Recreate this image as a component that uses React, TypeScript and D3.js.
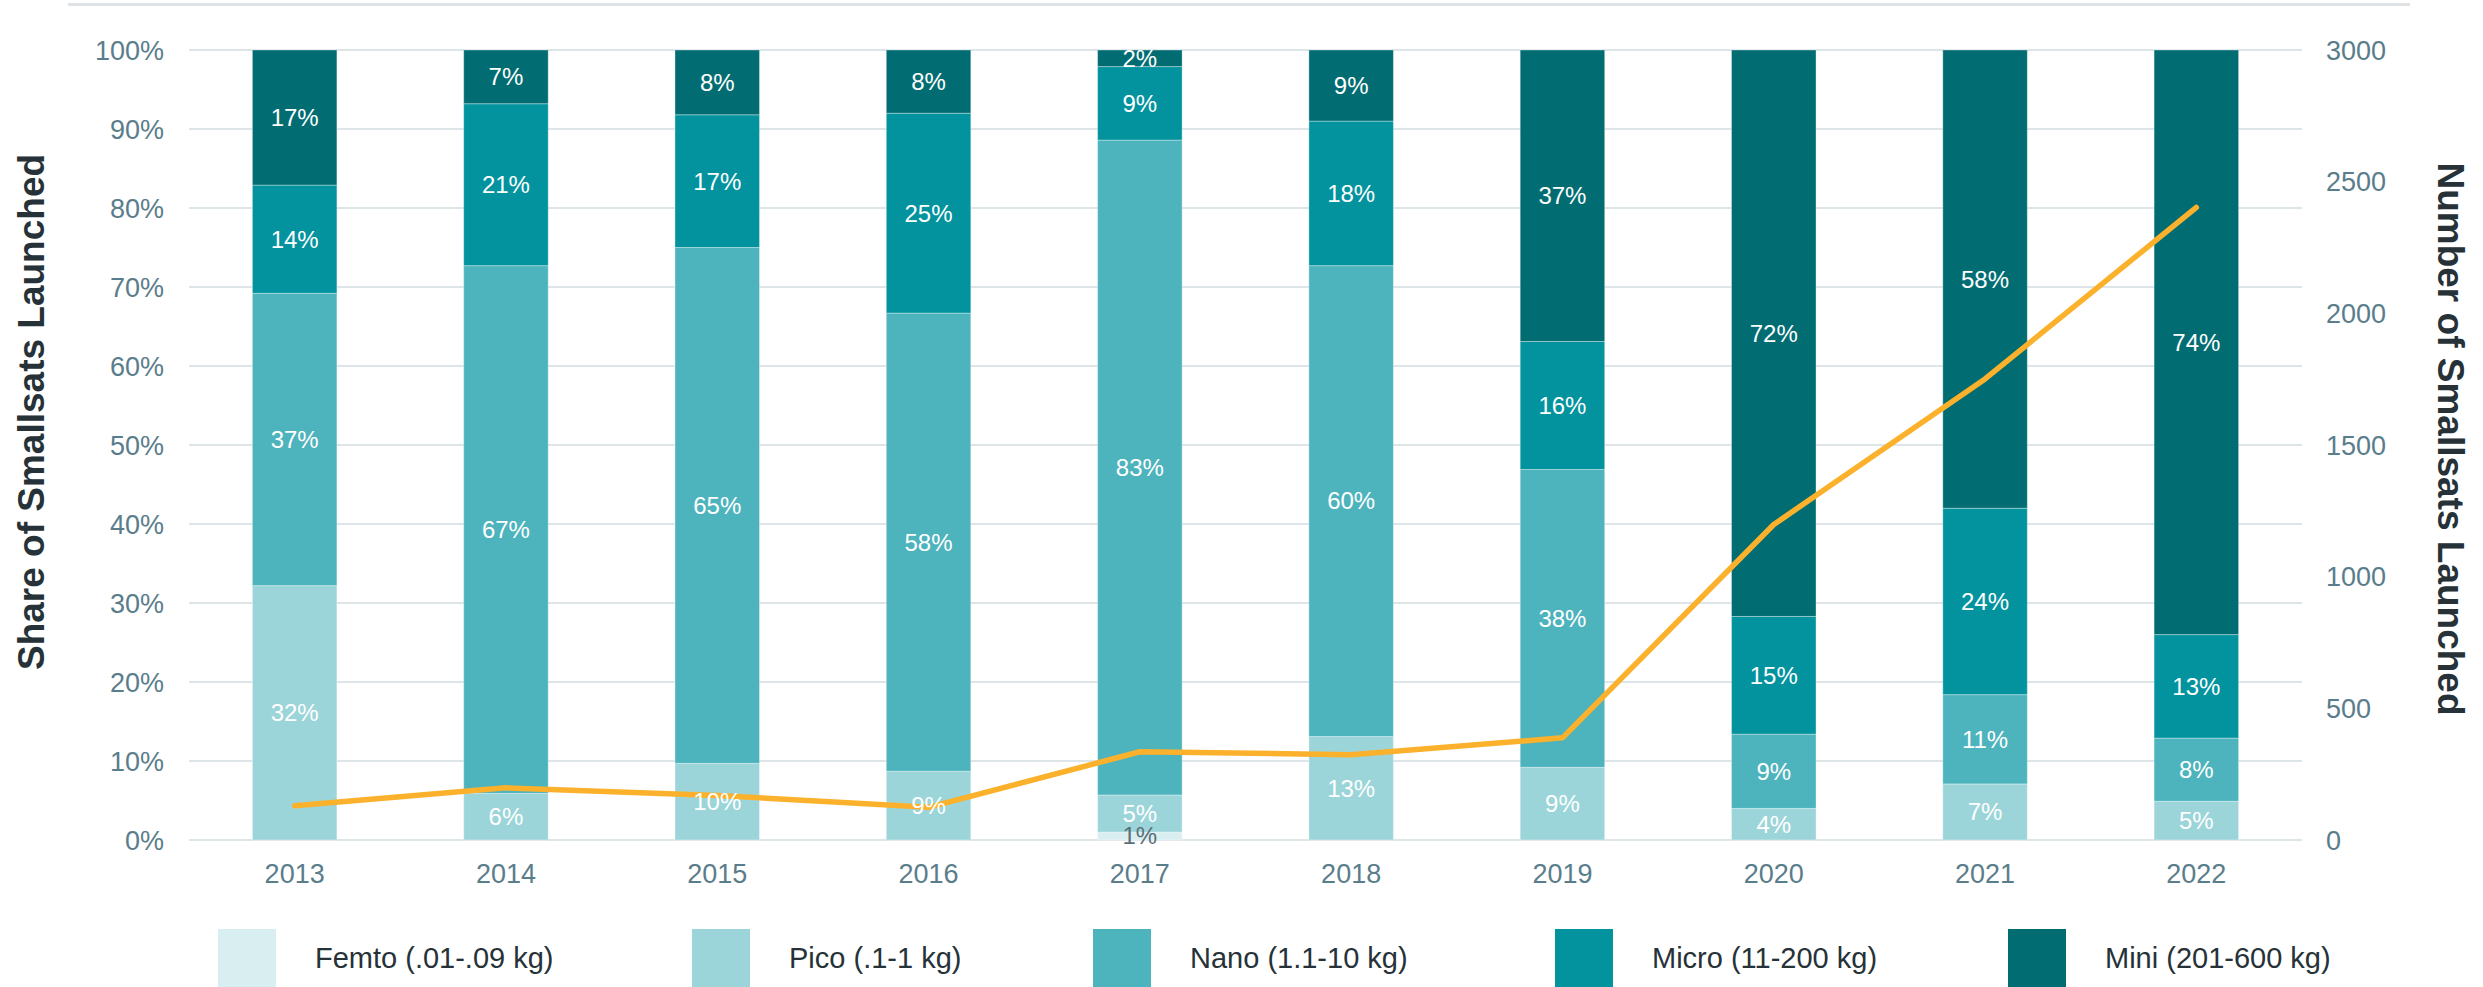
import React from 'react';
import * as d3 from 'd3';

const years = ['2013', '2014', '2015', '2016', '2017', '2018', '2019', '2020', '2021', '2022'];
const femto = [0, 0, 0, 0, 1.0, 0, 0, 0, 0, 0];
const pico = [32.2, 5.9, 9.7, 8.7, 4.7, 13.1, 9.2, 4.0, 7.1, 4.9];
const nano = [37.0, 66.8, 65.3, 58.0, 82.9, 59.6, 37.7, 9.4, 11.3, 8.0];
const micro = [13.7, 20.5, 16.8, 25.3, 9.3, 18.3, 16.2, 14.9, 23.6, 13.1];
const mini = [17.1, 6.8, 8.2, 8.0, 2.1, 9.0, 36.9, 71.7, 58.0, 74.0];
const launches = [130, 198, 169, 124, 335, 324, 388, 1198, 1751, 2402];

const seriesNames = ['Femto (.01-.09 kg)', 'Pico (.1-1 kg)', 'Nano (1.1-10 kg)', 'Micro (11-200 kg)', 'Mini (201-600 kg)'];
const seriesKeys = ['femto', 'pico', 'nano', 'micro', 'mini'];
const seriesValues = [femto, pico, nano, micro, mini];
const seriesColors = ['#d9eef0', '#9cd5d9', '#4db3bd', '#02939e', '#016d72'];
const labelColors = ['#5a6f78', '#ffffff', '#ffffff', '#ffffff', '#ffffff'];

const leftTicks = [0, 10, 20, 30, 40, 50, 60, 70, 80, 90, 100];
const rightTicks = [0, 500, 1000, 1500, 2000, 2500, 3000];

// layout
const W = 2483;
const H = 987;
const plotLeft = 189;
const plotRight = 2302;
const plotTop = 50;
const plotBottom = 840;
const legendX = [218, 692, 1093, 1555, 2008];
const FONT = 'Liberation Sans, Arial, Helvetica, sans-serif';
const tickColor = '#5a7d8b';
const titleColor = '#263238';

export default function App() {
  const x = d3.scaleBand<string>().domain(years).range([plotLeft, plotRight]).paddingInner(0.6).paddingOuter(0.3);
  const y = d3.scaleLinear().domain([0, 100]).range([plotBottom, plotTop]);
  const yR = d3.scaleLinear().domain([0, 3000]).range([plotBottom, plotTop]);

  const table = years.map((yr, i) => {
    const row: any = { year: yr };
    seriesKeys.forEach((k, j) => (row[k] = seriesValues[j][i]));
    return row;
  });
  const stacked = d3.stack<any>().keys(seriesKeys)(table);

  const line = d3
    .line<number>()
    .x((_, i) => (x(years[i]) as number) + x.bandwidth() / 2)
    .y((d) => yR(d));

  const bw = x.bandwidth();

  return (
    <svg width={W} height={H} style={{ position: 'absolute', left: 0, top: 0, background: '#fff' }} fontFamily={FONT}>
      <defs>
        <clipPath id="labclip">
          <rect x={0} y={plotTop} width={W} height={900 - plotTop} />
        </clipPath>
      </defs>
      <rect x={0} y={0} width={W} height={H} fill="#fff" />
      {/* top rule */}
      <line x1={68} x2={2410} y1={4.5} y2={4.5} stroke="#dfe3e5" strokeWidth={3} />

      {/* gridlines */}
      {leftTicks.map((t) => (
        <line key={t} x1={plotLeft} x2={plotRight} y1={y(t)} y2={y(t)} stroke="#dde5e9" strokeWidth={2} />
      ))}

      {/* left ticks */}
      {leftTicks.map((t) => (
        <text key={t} x={164} y={y(t) + 9.5} textAnchor="end" fontSize={27} fill={tickColor}>
          {t + '%'}
        </text>
      ))}
      {/* right ticks */}
      {rightTicks.map((t) => (
        <text key={t} x={2326} y={yR(t) + 9.5} textAnchor="start" fontSize={27} fill={tickColor}>
          {t}
        </text>
      ))}
      {/* x ticks */}
      {years.map((yr) => (
        <text key={yr} x={(x(yr) as number) + bw / 2} y={883} textAnchor="middle" fontSize={27} fill={tickColor}>
          {yr}
        </text>
      ))}

      {/* axis titles */}
      <text
        transform={`translate(44, 412) rotate(-90)`}
        textAnchor="middle"
        fontSize={37}
        fontWeight="bold"
        fill={titleColor}
      >
        Share of Smallsats Launched
      </text>
      <text
        transform={`translate(2438, 439) rotate(90)`}
        textAnchor="middle"
        fontSize={37}
        fontWeight="bold"
        fill={titleColor}
      >
        Number of Smallsats Launched
      </text>

      {/* bars */}
      {stacked.map((s, j) => (
        <g key={s.key} fill={seriesColors[j]}>
          {s.map((d, i) =>
            d[1] - d[0] > 0 ? (
              <rect
                key={i}
                x={x(years[i]) as number}
                y={y(d[1])}
                width={bw}
                height={y(d[0]) - y(d[1])}
                stroke="rgba(255,255,255,0.35)"
                strokeWidth={1}
              />
            ) : null
          )}
        </g>
      ))}

      {/* line */}
      <path
        d={line(launches) as string}
        fill="none"
        stroke="#fbb12b"
        strokeWidth={5.5}
        strokeLinejoin="round"
        strokeLinecap="round"
      />

      {/* labels */}
      <g clipPath="url(#labclip)">
        {stacked.map((s, j) =>
          s.map((d, i) => {
            const v = d[1] - d[0];
            if (v <= 0) return null;
            return (
              <text
                key={s.key + i}
                x={(x(years[i]) as number) + bw / 2}
                y={y((d[0] + d[1]) / 2)}
                dy="0.35em"
                textAnchor="middle"
                fontSize={24}
                fill={labelColors[j]}
              >
                {Math.round(v) + '%'}
              </text>
            );
          })
        )}
      </g>

      {/* legend */}
      {seriesNames.map((n, j) => (
        <g key={n}>
          <rect x={legendX[j]} y={929} width={58} height={58} fill={seriesColors[j]} />
          <text x={legendX[j] + 97} y={968} fontSize={29} fill={titleColor}>
            {n}
          </text>
        </g>
      ))}
    </svg>
  );
}
